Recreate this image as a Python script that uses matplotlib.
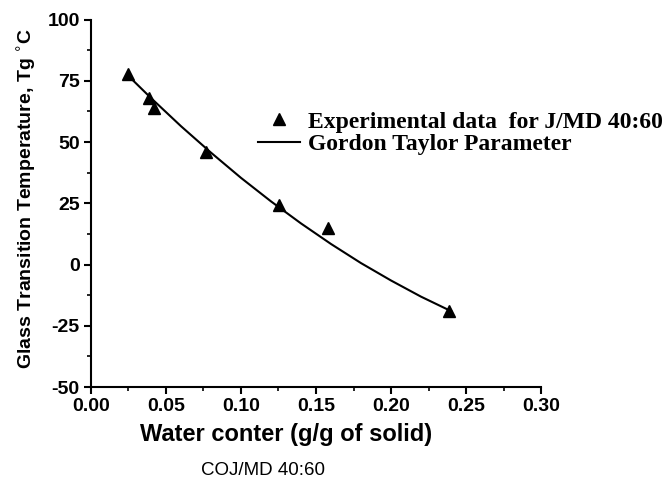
import matplotlib
matplotlib.use("Agg")
import matplotlib.pyplot as plt
from matplotlib.ticker import MultipleLocator

plt.rcParams['axes.unicode_minus'] = False

# experimental points
water = [0.025, 0.039, 0.042, 0.077, 0.1255, 0.158, 0.2387]
tg_exp = [78.0, 68.2, 63.8, 46.1, 24.5, 14.8, -19.0]

# Gordon Taylor curve
fit_x = [0.025, 0.04, 0.06, 0.08, 0.10, 0.12, 0.14, 0.16, 0.18, 0.20, 0.22, 0.24]
fit_y = [77.0, 68.0, 56.5, 45.7, 35.4, 25.8, 16.8, 8.4, 0.6, -6.5, -13.1, -19.0]

xticks = [0.0, 0.05, 0.10, 0.15, 0.20, 0.25, 0.30]
yticks = [-50, -25, 0, 25, 50, 75, 100]

fig = plt.figure(figsize=(6.68, 4.79), dpi=100)
ax = fig.add_axes([0.1362, 0.192, 0.6737, 0.767])

ax.plot(water, tg_exp, '^', color='black', markersize=9,
        label='Experimental data  for J/MD 40:60')
ax.plot(fit_x, fit_y, '-', color='black', linewidth=1.5,
        label='Gordon Taylor Parameter')

ax.set_xlim(0, 0.30)
ax.set_ylim(-50, 100)
ax.set_xticks(xticks)
ax.set_yticks(yticks)
ax.xaxis.set_minor_locator(MultipleLocator(0.025))
ax.yaxis.set_minor_locator(MultipleLocator(12.5))
tick_font = dict(fontfamily='Liberation Sans', fontweight='bold', fontsize=14)
ax.set_xticklabels(['%.2f' % v for v in xticks], **tick_font)
ax.set_yticklabels([str(v) for v in yticks], **tick_font)

for s in ['top', 'right']:
    ax.spines[s].set_visible(False)
for s in ['left', 'bottom']:
    ax.spines[s].set_linewidth(1.5)
ax.tick_params(which='major', direction='out', length=5, width=1.5, pad=3)
ax.tick_params(which='minor', direction='out', length=3, width=1.2)

ax.set_xlabel('Water conter (g/g of solid)', fontfamily='Liberation Sans',
              fontweight='bold', fontsize=17)
ax.xaxis.set_label_coords(0.433, -0.097)
ax.set_ylabel('Glass Transition Temperature, Tg $^{\\circ}$C', fontfamily='Liberation Sans',
              fontweight='bold', fontsize=14)
ax.yaxis.set_label_coords(-0.116, 0.514)

fig.text(0.394, 0.0, 'COJ/MD 40:60', fontfamily='Liberation Sans', fontsize=13.5,
         ha='center', va='bottom')

leg = ax.legend(loc='upper left', bbox_to_anchor=(0.386, 0.768),
                bbox_transform=fig.transFigure, frameon=False,
                prop={'family': 'Liberation Serif', 'weight': 'bold', 'size': 17},
                handlelength=1.78, handletextpad=0.34, labelspacing=0.05,
                borderpad=0, borderaxespad=0)

fig.savefig('out.png', dpi=100)
